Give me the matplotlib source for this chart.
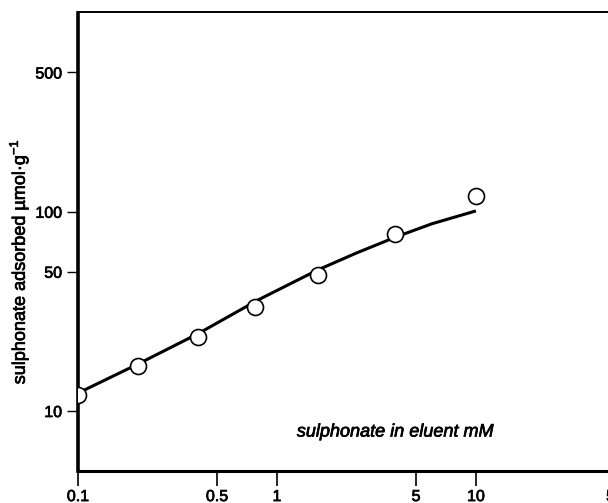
import matplotlib.pyplot as plt
import matplotlib.patheffects as pe
from matplotlib.ticker import FixedLocator, FixedFormatter, NullLocator

plt.rcParams['font.family'] = ['Liberation Sans', 'DejaVu Sans']

# measured points
conc = [0.1, 0.2, 0.4, 0.78, 1.6, 3.9, 10]
adsorbed = [12.0, 16.8, 23.6, 33.4, 48.2, 77, 120]

# smooth fitted curve drawn through the data
curve_x = [0.1, 0.2, 0.4, 0.8, 1.6, 2.5, 4, 6, 10]
curve_y = [12.3, 17.2, 24.4, 36, 51, 62, 75, 87, 101]

xticks = [0.1, 0.5, 1, 5, 10, 50]
xlabels = ['0.1', '0.5', '1', '5', '10', '50']
yticks = [10, 50, 100, 500]
ylabels = ['10', '50', '100', '500']

fig = plt.figure(figsize=(6.08, 5.03), dpi=100)
# the frame runs past the right edge of the page, so 50 is only half shown
ax = fig.add_axes([78 / 608, 32 / 503, 537 / 608, 458.5 / 503])
ax.set_xscale('log')
ax.set_yscale('log')
ax.set_xlim(0.1, 50)
ax.set_ylim(5, 1000)

ax.plot(curve_x, curve_y, color='black', lw=2.2, solid_capstyle='butt', zorder=2)
ax.plot(conc, adsorbed, 'o', ms=11.5, mfc='white', mec='black', mew=1.2, zorder=3)

ax.xaxis.set_major_locator(FixedLocator(xticks))
ax.xaxis.set_major_formatter(FixedFormatter(xlabels))
ax.yaxis.set_major_locator(FixedLocator(yticks))
ax.yaxis.set_major_formatter(FixedFormatter(ylabels))
ax.xaxis.set_minor_locator(NullLocator())
ax.yaxis.set_minor_locator(NullLocator())
ax.tick_params(axis='x', direction='out', length=11, width=1.2, pad=2, labelsize=11.5)
ax.tick_params(axis='y', direction='out', length=8, width=1.0, pad=3.5, labelsize=11.5)

ink = [pe.withStroke(linewidth=0.5, foreground='black')]
for lab in ax.get_xticklabels() + ax.get_yticklabels():
    lab.set_path_effects(ink)

ax.spines['left'].set_linewidth(2.6)
ax.spines['bottom'].set_linewidth(2.2)
ax.spines['top'].set_linewidth(1.4)
ax.spines['right'].set_visible(False)

ax.text(0.59, 0.085, 'sulphonate in eluent mM', transform=ax.transAxes,
        ha='center', va='center', fontsize=13, style='italic', path_effects=ink)
fig.text(0.031, 0.479, 'sulphonate adsorbed \u00b5mol\u00b7g$^{\\mathregular{-1}}$',
         rotation=90, ha='center', va='center', fontsize=13, path_effects=ink)

fig.savefig('out.png', dpi=100)
